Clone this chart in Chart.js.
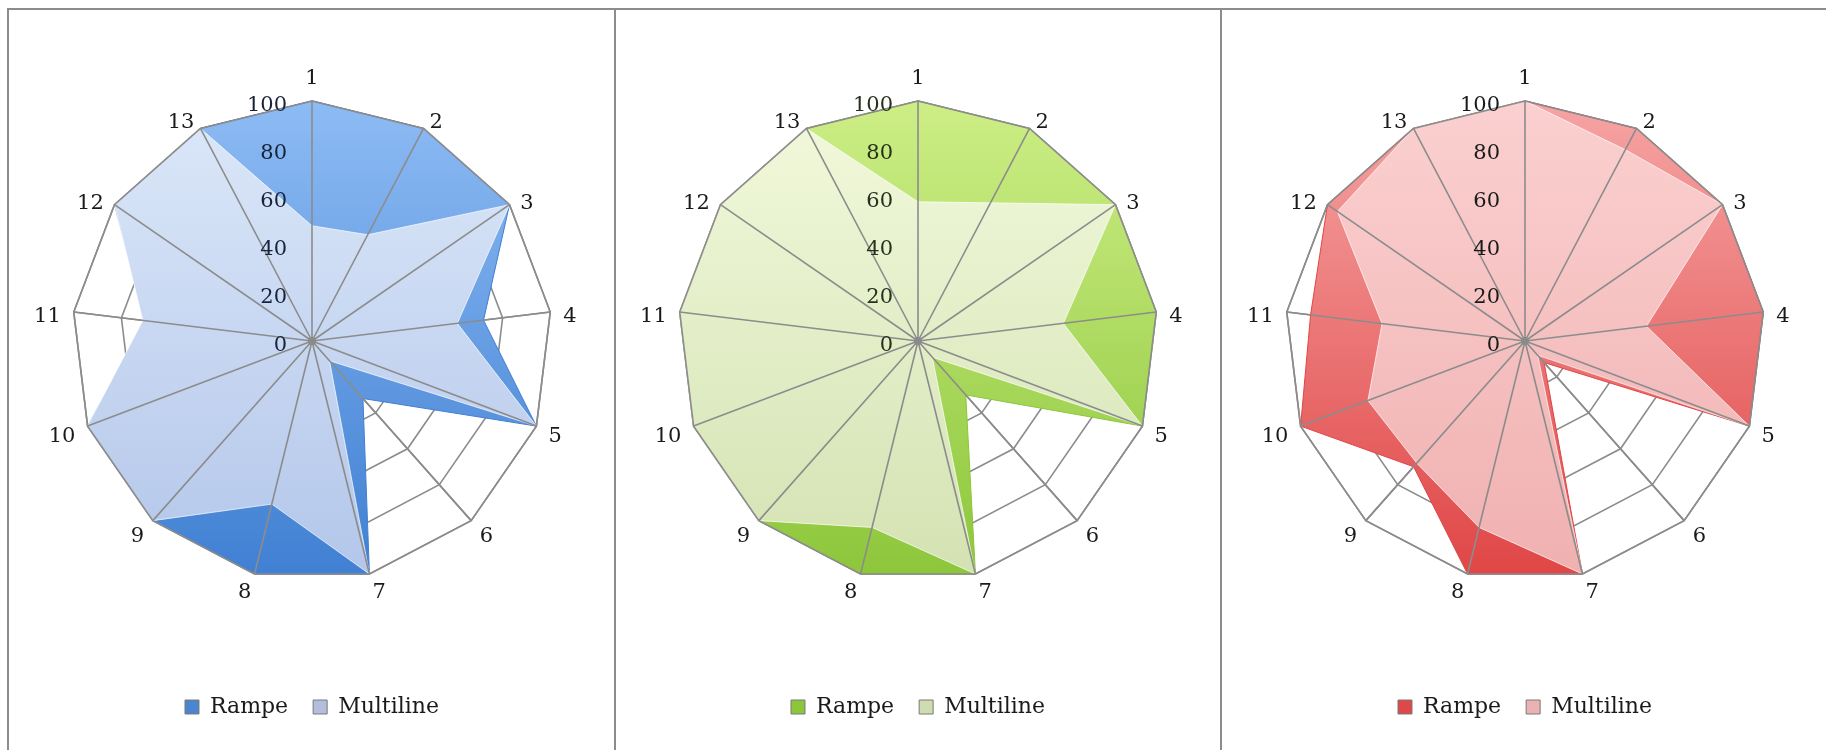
<!DOCTYPE html>
<html>
<head>
<meta charset="utf-8">
<script src="https://cdn.jsdelivr.net/npm/chart.js@4.4.0/dist/chart.umd.min.js"></script>
<style>
  html, body { margin: 0; padding: 0; background: #fff; width: 1826px; height: 750px; overflow: hidden; position: relative; }
  .panel { position: absolute; top: 8px; height: 760px; border-left: 2px solid #8c8c8c; border-top: 2px solid #8c8c8c; box-sizing: border-box; }
  .box { position: absolute; top: 0; width: 600px; height: 750px; }
</style>
</head>
<body>
<div class="panel" style="left:7px;width:607px"></div>
<div class="panel" style="left:614px;width:606px"></div>
<div class="panel" style="left:1220px;width:620px"></div>
<div class="box" style="left:12px"><canvas id="blue" width="600" height="750"></canvas></div>
<div class="box" style="left:618px"><canvas id="green" width="600" height="750"></canvas></div>
<div class="box" style="left:1225px"><canvas id="red" width="600" height="750"></canvas></div>
<script>
// axis categories and scale ticks
const categories = ['1', '2', '3', '4', '5', '6', '7', '8', '9', '10', '11', '12', '13'];
const tickValues = [0, 20, 40, 60, 80, 100];
const seriesNames = ['Rampe', 'Multiline'];

// values
const blueRampe     = [100, 100, 100, 72, 100, 32, 100, 100, 100, 100, 70, 100, 100];
const blueMultiline = [48, 50, 100, 61, 100, 11, 100, 70, 100, 100, 71, 100, 100];
const greenRampe     = [100, 100, 100, 100, 100, 30, 100, 100, 100, 100, 100, 100, 100];
const greenMultiline = [58, 65, 100, 61, 100, 9, 100, 80, 100, 100, 100, 100, 100];
const redRampe     = [100, 100, 100, 100, 100, 12, 100, 100, 70, 100, 90, 100, 100];
const redMultiline = [100, 90, 100, 51, 100, 8, 100, 80, 68, 70, 60, 95, 100];

const gridColor = '#8c8c8c';
const serif = '"DejaVu Serif", "Liberation Serif", serif';

// top / bottom colours of each fill, and legend swatch colours
const themes = {
  blue:  { rampe: ['#8dbbf4', '#3f7fd2'], multi: ['#dce8f9', '#b3c6ea'], swatch: ['#4a86cf', '#b2bedc'], tick: '#17233a' },
  green: { rampe: ['#cdee86', '#8cc63a'], multi: ['#f2f9dc', '#d3e2b2'], swatch: ['#8cc63a', '#cfdcb0'], tick: '#26301c' },
  red:   { rampe: ['#f6a4a4', '#e04545'], multi: ['#fbd0d0', '#f0b0b0'], swatch: ['#de4848', '#eab2b2'], tick: '#1a1a1a' }
};

function vgrad(top, bottom) {
  return (ctx) => {
    const chart = ctx.chart;
    const r = chart.scales.r;
    if (!chart.chartArea || !r) return top;
    const g = chart.ctx.createLinearGradient(0, r.yCenter - r.drawingArea, 0, r.yCenter + r.drawingArea);
    g.addColorStop(0, top);
    g.addColorStop(1, bottom);
    return g;
  };
}

// angle lines, outer ring, centre dot, tick and category labels drawn over the fills
const overlay = {
  id: 'overlay',
  afterDatasetsDraw(chart, args, opts) {
    const r = chart.scales.r;
    const c = chart.ctx;
    c.save();
    c.strokeStyle = gridColor;
    c.lineWidth = 1.6;
    c.beginPath();
    categories.forEach((_, i) => {
      const p = r.getPointPosition(i, r.drawingArea);
      c.moveTo(r.xCenter, r.yCenter);
      c.lineTo(p.x, p.y);
    });
    c.stroke();
    c.beginPath();
    categories.forEach((_, i) => {
      const p = r.getPointPosition(i, r.drawingArea);
      if (i) c.lineTo(p.x, p.y); else c.moveTo(p.x, p.y);
    });
    c.closePath();
    c.stroke();

    c.fillStyle = '#8a8a8a';
    c.beginPath();
    c.arc(r.xCenter, r.yCenter, 4, 0, Math.PI * 2);
    c.fill();

    c.font = '21px ' + serif;
    c.textBaseline = 'middle';
    c.textAlign = 'right';
    c.fillStyle = opts.tickColor;
    tickValues.forEach(v => {
      c.fillText(String(v), r.xCenter - 25, r.yCenter - r.getDistanceFromCenterForValue(v) + 5);
    });

    c.fillStyle = '#1a1a1a';
    categories.forEach((lab, i) => {
      const p = r.getPointPosition(i, r.drawingArea + 13);
      const a = r.getIndexAngle(i);
      const sx = Math.sin(a), sy = -Math.cos(a);
      c.textAlign = Math.abs(sx) < 0.05 ? 'center' : (sx > 0 ? 'left' : 'right');
      c.fillText(lab, p.x, p.y + (sy < -0.95 ? -9 : 6));
    });
    c.restore();
  }
};

function radar(id, rampe, multi) {
  const t = themes[id];
  new Chart(document.getElementById(id), {
    type: 'radar',
    data: {
      labels: categories,
      datasets: [{
        label: seriesNames[0],
        data: rampe,
        fill: true,
        order: 2,
        backgroundColor: vgrad(t.rampe[0], t.rampe[1]),
        borderColor: t.rampe[1],
        borderWidth: 1,
        pointRadius: 0
      }, {
        label: seriesNames[1],
        data: multi,
        fill: true,
        order: 1,
        backgroundColor: vgrad(t.multi[0], t.multi[1]),
        borderColor: 'rgba(255,255,255,0.7)',
        borderWidth: 1,
        pointRadius: 0
      }]
    },
    options: {
      responsive: false,
      animation: false,
      layout: { padding: { top: 12, bottom: 22, left: 60, right: 60 } },
      scales: {
        r: {
          min: 0,
          max: 100,
          ticks: { stepSize: 20, display: false },
          grid: { color: gridColor, lineWidth: 1.6 },
          angleLines: { color: gridColor, lineWidth: 1.6 },
          pointLabels: { display: false }
        }
      },
      plugins: {
        tooltip: { enabled: false },
        overlay: { tickColor: t.tick },
        legend: {
          position: 'bottom',
          labels: {
            font: { family: serif, size: 22 },
            color: '#1a1a1a',
            boxWidth: 14,
            boxHeight: 14,
            padding: 25,
            sort: (a, b) => a.datasetIndex - b.datasetIndex,
            generateLabels(chart) {
              const items = Chart.defaults.plugins.legend.labels.generateLabels(chart);
              items.forEach(it => {
                it.fillStyle = t.swatch[it.datasetIndex];
                it.strokeStyle = '#7a7a7a';
                it.lineWidth = 1;
              });
              return items;
            }
          }
        }
      }
    },
    plugins: [overlay]
  });
}

radar('blue', blueRampe, blueMultiline);
radar('green', greenRampe, greenMultiline);
radar('red', redRampe, redMultiline);
</script>
</body>
</html>
